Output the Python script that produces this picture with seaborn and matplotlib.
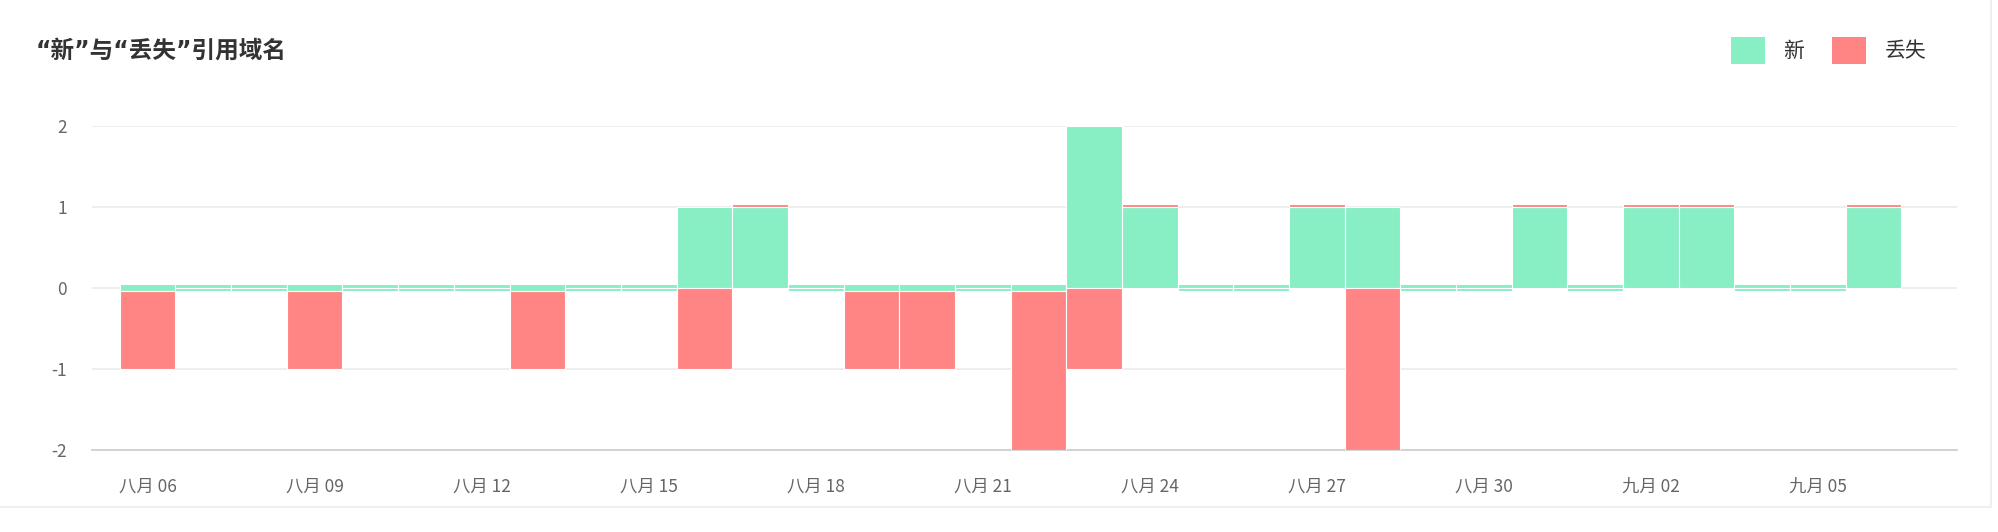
import matplotlib
matplotlib.use('Agg')
import matplotlib.pyplot as plt
import seaborn as sns
import pandas as pd
import numpy as np
from matplotlib.patches import Patch, Rectangle

# 数据：2023-08-06 ~ 2023-09-06，每天新增/丢失的引用域名
days = pd.date_range('2023-08-06', '2023-09-06')
new = [0, 0, 0, 0, 0, 0, 0, 0, 0, 0, 1, 1, 0, 0, 0, 0,
       0, 2, 1, 0, 0, 1, 1, 0, 0, 1, 0, 1, 1, 0, 0, 1]
lost = [-1, 0, 0, -1, 0, 0, 0, -1, 0, 0, -1, 0, 0, -1, -1, 0,
        -2, -1, 0, 0, 0, 0, -2, 0, 0, 0, 0, 0, 0, 0, 0, 0]
month_cn = {8: '八月', 9: '九月'}
series_names = ['新', '丢失']
colors = ['#88EEC3', '#FF8585']

sns.set_style('white')
plt.rcParams['font.family'] = ['Noto Sans CJK SC', 'DejaVu Sans']

df = pd.DataFrame({'day': range(len(days)), 'new': new, 'lost': lost})

# 零值也画一个很矮的柱子（类似 echarts 的 barMinHeight）
stub_up, stub_down, cap = 0.045, -0.035, 0.037
df['g_bottom'] = np.where(df['new'] > 0, 0, stub_down)
df['g_height'] = np.where(df['new'] > 0, df['new'], stub_up) - df['g_bottom']
df['r_bottom'] = np.where(df['lost'] < 0, np.where(df['new'] > 0, 0, stub_down),
                          np.where(df['new'] > 0, df['new'], 0))
df['r_height'] = np.where(df['lost'] < 0, df['lost'] - df['r_bottom'],
                          np.where(df['new'] > 0, cap, 0))

fig = plt.figure(figsize=(19.99, 5.32), dpi=100)
ax = fig.add_axes([0.046, 0.154, 0.933, 0.609])

sns.barplot(data=df, x='day', y='g_height', bottom=df['g_bottom'].to_numpy(),
            color=colors[0], saturation=1, width=1.0, errorbar=None,
            edgecolor='white', linewidth=0.8, ax=ax, zorder=3)
sns.barplot(data=df, x='day', y='r_height', bottom=df['r_bottom'].to_numpy(),
            color=colors[1], saturation=1, width=1.0, errorbar=None,
            edgecolor='white', linewidth=0.8, ax=ax, zorder=3)

ax.set_xlim(-1, 32.5)
ax.set_ylim(-2, 2)
ax.set_yticks([-2, -1, 0, 1, 2])
ax.set_yticklabels(['-2', '-1', '0', '1', '2'])
ticks = list(range(0, len(days), 3))
ax.set_xticks(ticks)
ax.set_xticklabels([f"{month_cn[days[i].month]} {days[i].day:02d}" for i in ticks])
ax.tick_params(axis='x', length=0, pad=20, labelsize=12.5, labelcolor='#666666')
ax.tick_params(axis='y', length=0, pad=18, labelsize=12.5, labelcolor='#666666')
ax.set_xlabel('')
ax.set_ylabel('')
ax.yaxis.grid(True, color='#EBEBEB', linewidth=1.2, zorder=0)
ax.xaxis.grid(False)
for s in ['top', 'left', 'right']:
    ax.spines[s].set_visible(False)
ax.spines['bottom'].set_color('#CCCCCC')
ax.spines['bottom'].set_linewidth(1.2)
ax.set_axisbelow(True)

# 引号用窄字形（DejaVu），汉字回落到 Noto CJK
fig.text(0.018, 0.905, '“新”与“丢失”引用域名', fontsize=17, color='#333333',
         fontweight='bold', va='center', ha='left',
         family=['DejaVu Sans', 'Noto Sans CJK SC'])

handles = [Patch(facecolor=c, edgecolor='none') for c in colors]
fig.legend(handles, series_names, loc='center right', bbox_to_anchor=(0.973, 0.905),
           ncol=2, frameon=False, fontsize=15, handlelength=1.6, handleheight=1.6,
           handletextpad=0.9, columnspacing=1.35, labelcolor='#333333')

# 卡片边框
fig.add_artist(Rectangle((-0.01, 0.047), 1.006, 1.0, transform=fig.transFigure,
                         fill=False, edgecolor='#EFEFEF', linewidth=1.5))

fig.savefig('out.png', dpi=100)
